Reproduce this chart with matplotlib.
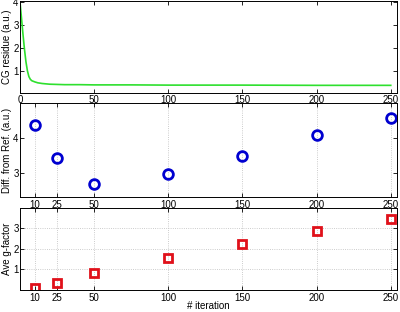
import matplotlib
matplotlib.use('Agg')
from matplotlib import pyplot as plt

# CG residue curve
cg_iter = [0, 1, 2, 3, 4, 5, 6, 7, 8, 10, 12, 15, 20, 25, 30, 40, 50, 75, 100, 150, 200, 250]
cg_res = [4.0, 3.3, 2.6, 1.95, 1.4, 1.0, 0.75, 0.63, 0.57, 0.52, 0.48, 0.45, 0.42, 0.41, 0.40, 0.40, 0.39, 0.39, 0.38, 0.38, 0.37, 0.37]

iters = [10, 25, 50, 100, 150, 200, 250]
diff_ref = [4.35, 3.41, 2.68, 2.97, 3.47, 4.06, 4.56]
ave_g = [0.13, 0.36, 0.81, 1.56, 2.22, 2.84, 3.40]

plt.rcParams['font.family'] = ['Liberation Sans', 'DejaVu Sans']
plt.rcParams['font.size'] = 7

fig = plt.figure(figsize=(4, 3.12), dpi=100)
L, W = 20 / 400, 376.7 / 400
ax1 = fig.add_axes([L, 1 - 92.7 / 312, W, 91.7 / 312])
ax2 = fig.add_axes([L, 1 - 197.3 / 312, W, 94 / 312])
ax3 = fig.add_axes([L, 1 - 290.3 / 312, W, 82 / 312])

for ax in (ax1, ax2, ax3):
    ax.tick_params(direction='in', top=True, right=True, length=3, width=0.6, labelsize=7)
    ax.tick_params(axis='y', pad=1)
    ax.tick_params(axis='x', pad=2)
    for s in ax.spines.values():
        s.set_linewidth(0.7)
    ax.set_xlim(0, 254)

# Top panel
ax1.plot(cg_iter, cg_res, color='#2ee02e', lw=1.2)
ax1.set_ylim(0.05, 4.04)
ax1.set_yticks([1, 2, 3, 4])
ax1.set_xticks([0, 50, 100, 150, 200, 250])
ax1.set_ylabel('CG residue (a.u.)')

# Middle panel
ax2.plot(iters, diff_ref, 'o', mfc='none', mec='#0000d0', mew=2, ms=7)
ax2.set_ylim(2.31, 4.97)
ax2.set_yticks([3, 4])
ax2.set_xticks(iters)
ax2.grid(True, axis='x', ls=':', color='#bbbbbb', lw=0.6)
ax2.set_ylabel('Diff. from Ref. (a.u.)')

# Bottom panel
ax3.plot(iters, ave_g, 's', mfc='none', mec='#e0101a', mew=2, ms=6)
ax3.set_ylim(0, 3.93)
ax3.set_yticks([1, 2, 3])
ax3.set_xticks(iters)
ax3.grid(True, ls=':', color='#bbbbbb', lw=0.6)
ax3.set_ylabel('Ave g-factor')
ax3.set_xlabel('# iteration')
ax3.xaxis.set_label_coords(0.5, -0.135)

for ax in (ax1, ax2, ax3):
    ax.yaxis.set_label_coords(-0.022, 0.5)

fig.savefig('out.png', dpi=100)
plt.close()
